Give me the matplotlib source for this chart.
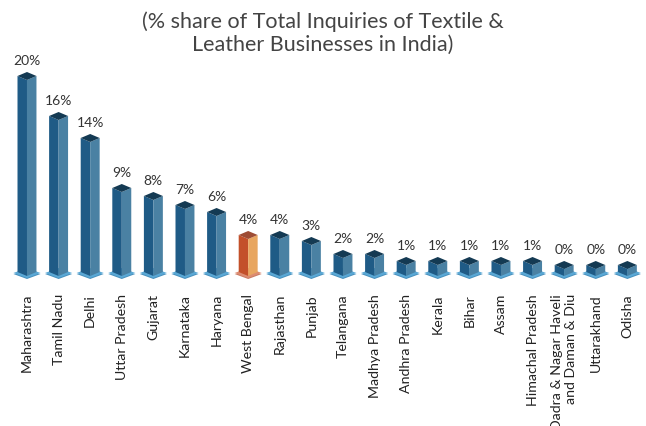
import matplotlib
matplotlib.use("Agg")
import matplotlib.pyplot as plt
from matplotlib.patches import Polygon

plt.rcParams["font.family"] = ["Lato", "DejaVu Sans"]

states = ["Maharashtra", "Tamil Nadu", "Delhi", "Uttar Pradesh", "Gujarat",
          "Karnataka", "Haryana", "West Bengal", "Rajasthan", "Punjab",
          "Telangana", "Madhya Pradesh", "Andhra Pradesh", "Kerala", "Bihar",
          "Assam", "Himachal Pradesh", "Dadra & Nagar Haveli\nand Daman & Diu",
          "Uttarakhand", "Odisha"]
# bar heights (in %), and the printed labels
heights = [19.6, 15.6, 13.4, 8.4, 7.6, 6.7, 6.0, 3.7, 3.7, 3.1,
           1.8, 1.8, 1.1, 1.1, 1.1, 1.1, 1.1, 0.7, 0.7, 0.7]
labels = ["20%", "16%", "14%", "9%", "8%", "7%", "6%", "4%", "4%", "3%",
          "2%", "2%", "1%", "1%", "1%", "1%", "1%", "0%", "0%", "0%"]
highlight = "West Bengal"

blue = dict(left="#1f5b86", right="#4a81a3", top="#143a53", base="#5aa8d5", edge="#4790bd")
orange = dict(left="#c3502a", right="#e8a660", top="#9e4c34", base="#dc8c72", edge="#c97a62")

fig = plt.figure(figsize=(6.46, 4.27), dpi=100)
ax = fig.add_axes([0, 0, 1, 1])
ax.set_xlim(-0.854, 19.59)
ax.set_ylim(-15.0, 27.7)
ax.axis("off")

w = 0.30   # half width of the prism
d = 0.40   # half depth (vertical) of the top diamond
bw, bh = 0.43, 0.5  # base platform

for i, (name, h, lab) in enumerate(zip(states, heights, labels)):
    c = orange if name == highlight else blue
    x = i
    # base platform
    ax.add_patch(Polygon([(x - bw, 0.2), (x, 0.3 - bh - 0.1), (x + bw, 0.2), (x, 0.3)],
                         closed=True, fc=c["edge"], ec="none", zorder=1))
    ax.add_patch(Polygon([(x - bw, 0.3), (x, 0.3 - bh), (x + bw, 0.3), (x, 0.3 + bh)],
                         closed=True, fc=c["base"], ec="none", zorder=2))
    # faces
    ax.add_patch(Polygon([(x, 0), (x - w, d), (x - w, d + h), (x, h)],
                         closed=True, fc=c["left"], ec="none", zorder=3))
    ax.add_patch(Polygon([(x, 0), (x + w, d), (x + w, d + h), (x, h)],
                         closed=True, fc=c["right"], ec="none", zorder=3))
    ax.add_patch(Polygon([(x, h), (x - w, h + d), (x, h + 2 * d), (x + w, h + d)],
                         closed=True, fc=c["top"], ec="none", zorder=4))
    ax.text(x, h + 2 * d + 0.6, lab, ha="center", va="bottom",
            fontsize=10, color="#333333")
    ax.text(x, -1.7, name, rotation=90, ha="center", va="top",
            multialignment="right", fontsize=10.2, color="#222222",
            linespacing=1.15)

fig.text(0.5, 1 - 33 / 427, "(% share of Total Inquiries of Textile &\nLeather Businesses in India)",
         ha="center", va="center", fontsize=15.5, color="#444444", linespacing=1.2)

fig.savefig("out.png", dpi=100)
